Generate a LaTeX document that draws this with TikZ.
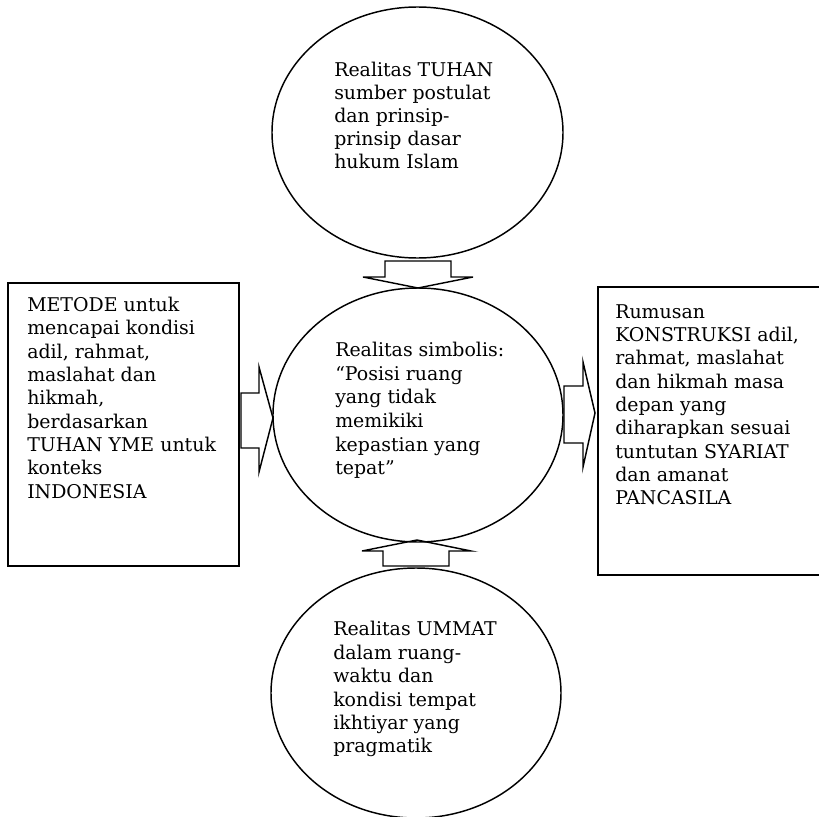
\documentclass[tikz,border=0pt]{standalone}
\usepackage{fontspec}
\setmainfont{DejaVu Serif}
\usetikzlibrary{shapes.geometric}
\begin{document}
\begin{tikzpicture}[x=0.75pt,y=-0.75pt,
  outline/.style={draw=black,line width=1.1pt},
  oval/.style={outline,ellipse,inner sep=0pt},
  panel/.style={outline,rectangle,inner sep=0pt},
  blockarrow/.style={outline,line join=miter},
  label/.style={anchor=north west,inner sep=0pt,align=left,
    font=\fontsize{14.2pt}{#1}\selectfont},
  label/.default=17.5pt]
\useasboundingbox (0,0) rectangle (819,817);
\clip (0,0) rectangle (819,817);

% the three realities, stacked vertically
\node[oval,minimum width=291*0.75pt,minimum height=251*0.75pt] (tuhan) at (417.5,132.5) {};
\node[oval,minimum width=290*0.75pt,minimum height=254*0.75pt] (simbol) at (418,415) {};
\node[oval,minimum width=290*0.75pt,minimum height=250*0.75pt] (ummat) at (416,693) {};

% method box on the left, formulation box on the right
\node[panel,minimum width=231*0.75pt,minimum height=283*0.75pt] (metode) at (123.5,424.5) {};
\node[panel,minimum width=224*0.75pt,minimum height=288*0.75pt] (rumusan) at (710,431) {};

% block arrows
\draw[blockarrow] (385,261) -- (451,261) -- (451,277) -- (473,277) -- (418,288)
  -- (363,277) -- (385,277) -- cycle;
\draw[blockarrow] (383,566) -- (449,566) -- (449,551) -- (471,551) -- (417,540)
  -- (362,551) -- (383,551) -- cycle;
\draw[blockarrow] (241,393) -- (259,393) -- (259,367) -- (273,418) -- (259,472)
  -- (259,448) -- (241,448) -- cycle;
\draw[blockarrow] (564,386) -- (583,386) -- (583,362) -- (595,413) -- (583,467)
  -- (583,443) -- (564,443) -- cycle;

% texts
\node[label=17.2pt] (tuhantext) at (334,62) {Realitas TUHAN\\sumber postulat\\dan prinsip-\\prinsip dasar\\hukum Islam};
\node[label=17.7pt] (simboltext) at (335,342) {Realitas simbolis:\\“Posisi ruang\\yang tidak\\memikiki\\kepastian yang\\tepat”};
\node[label=17.6pt] (ummattext) at (333,621) {Realitas UMMAT\\dalam ruang-\\waktu dan\\kondisi tempat\\ikhtiyar yang\\pragmatik};
\node[label] (metodetext) at (27,297) {METODE untuk\\mencapai kondisi\\adil, rahmat,\\maslahat dan\\hikmah,\\berdasarkan\\TUHAN YME untuk\\konteks\\INDONESIA};
\node[label] (rumusantext) at (615,304) {Rumusan\\KONSTRUKSI adil,\\rahmat, maslahat\\dan hikmah masa\\depan yang\\diharapkan sesuai\\tuntutan SYARIAT\\dan amanat\\PANCASILA};
\end{tikzpicture}
\end{document}
